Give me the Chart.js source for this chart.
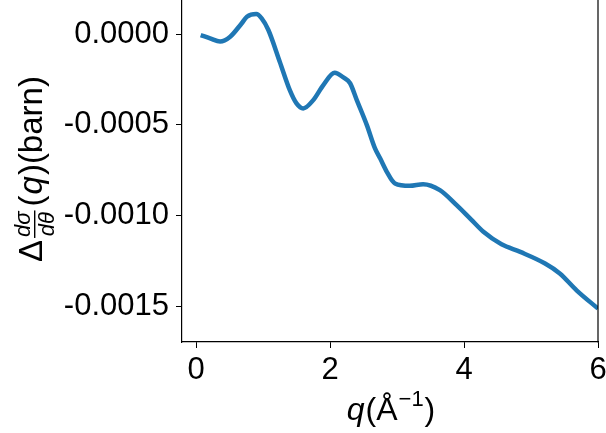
<!DOCTYPE html>
<html>
<head>
<meta charset="utf-8">
<script src="https://cdn.jsdelivr.net/npm/chart.js@4/dist/chart.umd.min.js"></script>
<style>
  html, body { margin: 0; padding: 0; background: #ffffff; }
  #wrap { width: 606px; height: 433px; }
</style>
</head>
<body>
<div id="wrap"><canvas id="c" width="606" height="433"></canvas></div>
<script>
// Momentum transfer q (1/Å)
const qValues = [0.07, 0.21, 0.36, 0.51, 0.68, 0.76, 0.90, 0.98, 1.08, 1.25,
                 1.40, 1.50, 1.60, 1.75, 1.90, 2.07, 2.20, 2.30, 2.40, 2.55,
                 2.67, 2.75, 2.85, 2.97, 3.19, 3.39, 3.64, 3.89, 4.10, 4.29,
                 4.56, 4.84, 5.21, 5.43, 5.68, 6.00];
// Difference of the differential cross section (barn)
const deltaSigma = [-0.000004, -0.000022, -0.000040, -0.000013, 0.000060, 0.000097, 0.000112, 0.000088, 0.000024, -0.000151,
                    -0.000308, -0.000381, -0.000409, -0.000363, -0.000280, -0.000212, -0.000238, -0.000270, -0.000363, -0.000501,
                    -0.000628, -0.000686, -0.000760, -0.000823, -0.000836, -0.000827, -0.000860, -0.000943, -0.001020, -0.001090,
                    -0.001159, -0.001201, -0.001265, -0.001320, -0.001413, -0.001514];
const xTicks = [0, 2, 4, 6];
const yTicks = [-0.0015, -0.0010, -0.0005, 0.0000];

const FONT = '"Liberation Sans", Arial, Helvetica, sans-serif';
const TICK_SIZE = 31;

// Right spine plus the two axis titles (with fraction / superscript)
const decorations = {
  id: 'decorations',
  afterDraw(chart) {
    const ctx = chart.ctx;
    const a = chart.chartArea;
    ctx.save();
    ctx.strokeStyle = '#000';
    ctx.lineWidth = 1.2;
    ctx.beginPath();
    ctx.moveTo(a.right, a.top);
    ctx.lineTo(a.right, a.bottom + 0.6);
    ctx.stroke();
    ctx.restore();

    // y title: Δ dσ/dθ (q)(barn)
    ctx.save();
    ctx.fillStyle = '#000';
    ctx.textBaseline = 'alphabetic';
    ctx.translate(42, 262);
    ctx.rotate(-Math.PI / 2);
    ctx.font = `33px ${FONT}`;
    ctx.fillText('Δ', 0, 0);
    let x = ctx.measureText('Δ').width + 2;
    ctx.font = `italic 22px ${FONT}`;
    const wN = ctx.measureText('dσ').width;
    const wD = ctx.measureText('dθ').width;
    const fw = Math.max(wN, wD) + 2;
    ctx.fillText('dσ', x + (fw - wN) / 2, -12);
    ctx.fillText('dθ', x + (fw - wD) / 2, 12);
    ctx.fillRect(x, -8, fw, 1.4);
    x += fw + 4;
    ctx.font = `33px ${FONT}`;
    ctx.fillText('(', x, 0);
    x += ctx.measureText('(').width + 1;
    ctx.font = `italic 33px ${FONT}`;
    ctx.fillText('q', x, 0);
    x += ctx.measureText('q').width + 1;
    ctx.font = `33px ${FONT}`;
    ctx.fillText(')(barn)', x, 0);
    ctx.restore();

    // x title: q(Å^-1)
    ctx.save();
    ctx.fillStyle = '#000';
    ctx.textBaseline = 'alphabetic';
    const parts = [
      { t: 'q', f: `italic 32px ${FONT}`, dy: 0, gap: 1 },
      { t: '(Å', f: `32px ${FONT}`, dy: 0, gap: 1 },
      { t: '−1', f: `22px ${FONT}`, dy: -14, gap: 1 },
      { t: ')', f: `32px ${FONT}`, dy: 0, gap: 0 }
    ];
    let total = 0;
    parts.forEach(p => { ctx.font = p.f; p.w = ctx.measureText(p.t).width; total += p.w + p.gap; });
    let px = 391 - total / 2;
    const base = 420;
    parts.forEach(p => { ctx.font = p.f; ctx.fillText(p.t, px, base + p.dy); px += p.w + p.gap; });
    ctx.restore();
  }
};

new Chart(document.getElementById('c'), {
  type: 'line',
  data: {
    datasets: [{
      data: qValues.map((q, i) => ({ x: q, y: deltaSigma[i] })),
      borderColor: '#1f77b4',
      borderWidth: 4.5,
      pointRadius: 0,
      cubicInterpolationMode: 'monotone',
      fill: false
    }]
  },
  options: {
    responsive: false,
    animation: false,
    devicePixelRatio: 1,
    layout: { padding: { left: 0, right: 8, top: 0, bottom: 0 } },
    plugins: { legend: { display: false }, tooltip: { enabled: false } },
    scales: {
      x: {
        type: 'linear',
        min: -0.209,
        max: 6,
        afterBuildTicks: s => { s.ticks = xTicks.map(v => ({ value: v })); },
        ticks: {
          font: { family: FONT, size: TICK_SIZE },
          color: '#000',
          padding: 4,
          maxRotation: 0,
          autoSkip: false,
          callback: v => String(v)
        },
        grid: { drawOnChartArea: false, drawTicks: true, tickLength: 6, tickColor: '#000', tickWidth: 1 },
        border: { display: true, color: '#000', width: 1.2 },
        afterFit: s => { s.height = 91; s.paddingLeft = 0; s.paddingRight = 0; }
      },
      y: {
        type: 'linear',
        min: -0.0016983,
        max: 0.0001895,
        afterBuildTicks: s => { s.ticks = yTicks.map(v => ({ value: v })); },
        ticks: {
          font: { family: FONT, size: TICK_SIZE },
          color: '#000',
          padding: 7,
          autoSkip: false,
          callback: v => v.toFixed(4)
        },
        grid: { drawOnChartArea: false, drawTicks: true, tickLength: 6, tickColor: '#000', tickWidth: 1 },
        border: { display: true, color: '#000', width: 1.2 },
        afterFit: s => { s.width = 182; s.paddingTop = 0; s.paddingBottom = 0; }
      }
    }
  },
  plugins: [decorations]
});
</script>
</body>
</html>
